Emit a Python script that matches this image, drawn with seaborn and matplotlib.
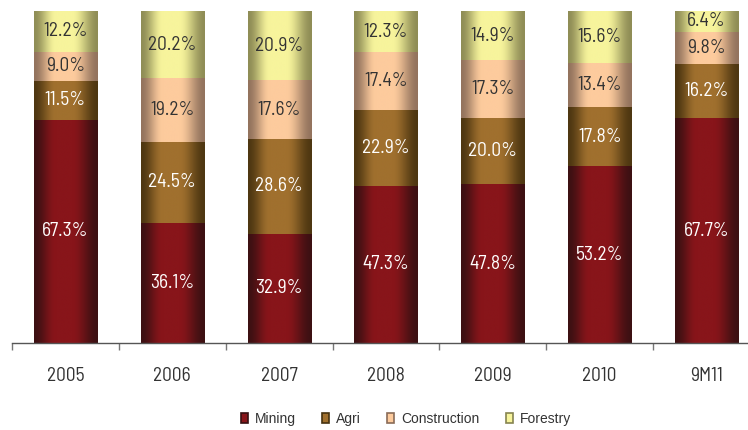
import numpy as np
import pandas as pd
import matplotlib
matplotlib.use("Agg")
import matplotlib.pyplot as plt
import seaborn as sns
from matplotlib import font_manager
from matplotlib.colors import to_rgb
from matplotlib.patches import Patch
from matplotlib.ticker import FixedLocator

categories = ["2005", "2006", "2007", "2008", "2009", "2010", "9M11"]
series = ["Mining", "Agri", "Construction", "Forestry"]
mining = [67.3, 36.1, 32.9, 47.3, 47.8, 53.2, 67.7]
agri = [11.5, 24.5, 28.6, 22.9, 20.0, 17.8, 16.2]
construction = [9.0, 19.2, 17.6, 17.4, 17.3, 13.4, 9.8]
forestry = [12.2, 20.2, 20.9, 12.3, 14.9, 15.6, 6.4]

edge_cols = {"Mining": "#361012", "Agri": "#47320f", "Construction": "#8a6c58", "Forestry": "#868450"}
mid_cols = {"Mining": "#88151a", "Agri": "#a0702e", "Construction": "#fdcb9d", "Forestry": "#f7f49c"}
label_cols = {"Mining": "white", "Agri": "white", "Construction": "#333333", "Forestry": "#333333"}

avail = {f.name for f in font_manager.fontManager.ttflist}
narrow = "DejaVu Sans"
for cand in ["Barlow Semi Condensed", "Roboto Condensed", "Liberation Sans Narrow"]:
    if cand in avail:
        narrow = cand
        break
sns.set_theme(style="white")
plt.rcParams["font.family"] = ["Liberation Sans", "DejaVu Sans"]

values = {"Mining": mining, "Agri": agri, "Construction": construction, "Forestry": forestry}
df = pd.DataFrame({"category": categories, **values})
cum = df[series].cumsum(axis=1)
bottoms = cum - df[series]

W, H = 748, 430
fig = plt.figure(figsize=(W / 100, H / 100), dpi=100)
ax = fig.add_axes([12 / W, (H - 343) / H, 748 / W, 332 / H])


def smooth(a, b, x):
    t = np.clip((x - a) / (b - a), 0, 1)
    return t * t * (3 - 2 * t)


xs = np.linspace(0, 1, 300)
prof = smooth(0.0, 0.34, xs) * smooth(1.0, 0.6, xs)
prof = 0.08 + 0.92 * prof

order = series[::-1]
for li, s in enumerate(order):
    d = pd.DataFrame({"category": categories, "top": cum[s].values})
    n_before = len(ax.patches)
    sns.barplot(data=d, x="category", y="top", color=mid_cols[s], width=0.59,
                saturation=1, ax=ax, linewidth=0, order=categories)
    new_patches = ax.patches[n_before:]
    e = np.array(to_rgb(edge_cols[s]))
    m = np.array(to_rgb(mid_cols[s]))
    grad = e[None, :] + (m - e)[None, :] * prof[:, None]
    img = grad[None, :, :]
    for p in new_patches:
        x0, y0 = p.get_x(), p.get_y()
        w, h = p.get_width(), p.get_height()
        p.set_zorder(1 + li * 0.1)
        im = ax.imshow(img, extent=[x0, x0 + w, y0, y0 + h], aspect="auto",
                       origin="lower", zorder=1.05 + li * 0.1, interpolation="bilinear")
        im.set_clip_path(p)

for s in series:
    for i, c in enumerate(categories):
        v = df.loc[i, s]
        yc = bottoms.loc[i, s] + v / 2
        ax.text(i, yc, f"{v:.1f}%", ha="center", va="center", color=label_cols[s],
                fontsize=14, family=[narrow, "DejaVu Sans"], zorder=6)

ax.set_xlim(-0.5, len(categories) - 0.5)
ax.set_ylim(0, 100)
ax.set_xlabel("")
ax.set_ylabel("")
ax.set_yticks([])
for sp in ["top", "right", "left"]:
    ax.spines[sp].set_visible(False)
ax.spines["bottom"].set_color("#555555")
ax.spines["bottom"].set_linewidth(1.0)
ax.set_xticks(range(len(categories)))
ax.set_xticklabels(categories, family=[narrow, "DejaVu Sans"], fontsize=14, color="#333333")
ax.tick_params(axis="x", which="major", length=0, pad=17)
ax.xaxis.set_minor_locator(FixedLocator(np.arange(-0.5, len(categories), 1.0)))
ax.tick_params(axis="x", which="minor", length=5, width=1, color="#777777", direction="out", bottom=True)

handles = [Patch(facecolor=mid_cols[s], edgecolor=edge_cols[s], linewidth=1.2, label=s) for s in series]
leg = fig.legend(handles=handles, loc="center", bbox_to_anchor=(406 / W, 1 - 419 / H), ncol=4,
                 frameon=False, fontsize=10, handlelength=0.5, handleheight=0.75,
                 handletextpad=0.5, columnspacing=1.9)
for t in leg.get_texts():
    t.set_color("#333333")

fig.savefig("out.png", dpi=100)
